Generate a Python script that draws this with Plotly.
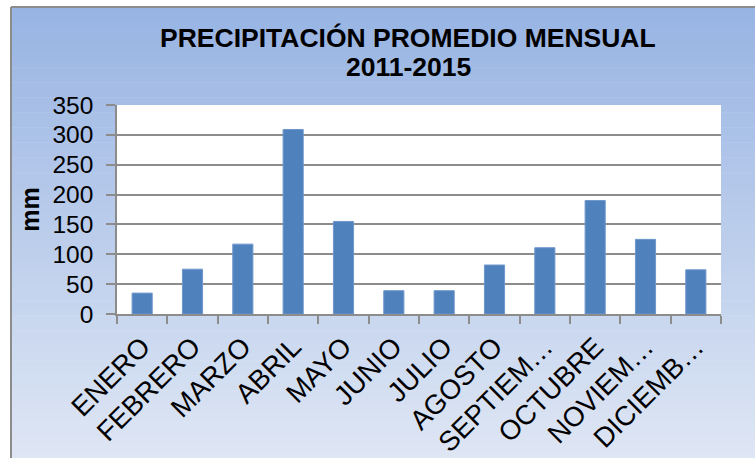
import plotly.graph_objects as go

months = ["ENERO", "FEBRERO", "MARZO", "ABRIL", "MAYO", "JUNIO", "JULIO",
          "AGOSTO", "SEPTIEMBRE", "OCTUBRE", "NOVIEMBRE", "DICIEMBRE"]
tick_labels = ["ENERO", "FEBRERO", "MARZO", "ABRIL", "MAYO", "JUNIO", "JULIO",
               "AGOSTO", "SEPTIEM…", "OCTUBRE", "NOVIEM…", "DICIEMB…"]
precip_mm = [35, 75, 117, 309, 155, 39, 39, 82, 111, 190, 125, 74]
y_ticks = [0, 50, 100, 150, 200, 250, 300, 350]

W, H = 755, 458
L, R, T, B = 117, 34, 105, 144
pw, ph = W - L - R, H - T - B

def px(x):
    return (x - L) / pw

def py(y):
    return (H - B - y) / ph

FONT = "Arial, Liberation Sans, sans-serif"

fig = go.Figure()
fig.add_trace(go.Bar(
    x=months, y=precip_mm,
    marker=dict(color="#4F81BD", line=dict(color="#6E97CC", width=1)),
    width=0.4,
))

shapes = []
# gradient background of chart area
top_c = (152, 180, 227)
bot_c = (222, 230, 244)
y0, y1 = 7, H
n = 60
for i in range(n):
    ya = y0 + (y1 - y0) * i / n
    yb = y0 + (y1 - y0) * (i + 1) / n
    t = i / (n - 1)
    c = tuple(round(top_c[k] + (bot_c[k] - top_c[k]) * t) for k in range(3))
    shapes.append(dict(type="rect", xref="paper", yref="paper", layer="below",
                       x0=px(11), x1=px(W + 2), y0=py(yb + 0.5), y1=py(ya),
                       fillcolor="rgb(%d,%d,%d)" % c, line=dict(width=0)))
# chart border (left + top)
shapes.append(dict(type="line", xref="paper", yref="paper", layer="below",
                   x0=px(11), x1=px(11), y0=py(H + 2), y1=py(7),
                   line=dict(color="#8C8C8C", width=2)))
shapes.append(dict(type="line", xref="paper", yref="paper", layer="below",
                   x0=px(11), x1=px(W + 2), y0=py(7), y1=py(7),
                   line=dict(color="#8C8C8C", width=2)))
# white plot area
shapes.append(dict(type="rect", xref="paper", yref="paper", layer="below",
                   x0=0, x1=1, y0=0, y1=1, fillcolor="white", line=dict(width=0)))

annotations = [
    dict(text="<b>PRECIPITACIÓN PROMEDIO MENSUAL</b>", xref="paper", yref="paper",
         x=px(408), y=py(38), xanchor="center", yanchor="middle", showarrow=False,
         font=dict(family=FONT, size=26.5, color="black")),
    dict(text="<b>2011-2015</b>", xref="paper", yref="paper",
         x=px(408), y=py(67), xanchor="center", yanchor="middle", showarrow=False,
         font=dict(family=FONT, size=26.5, color="black")),
]

fig.update_layout(
    template="none",
    width=W, height=H,
    margin=dict(l=L, r=R, t=T, b=B, pad=0),
    paper_bgcolor="white",
    plot_bgcolor="white",
    showlegend=False,
    shapes=shapes,
    annotations=annotations,
    font=dict(family=FONT, size=24, color="black"),
    xaxis=dict(
        type="category",
        tickvals=months, ticktext=tick_labels,
        tickangle=-45,
        tickson="boundaries",
        ticks="outside", ticklen=8, tickwidth=1.5, tickcolor="#8C8C8C",
        showline=True, linecolor="#8C8C8C", linewidth=1.5,
        showgrid=False, zeroline=False, automargin=False,
        tickfont=dict(family=FONT, size=27.5, color="black"),
        ticklabelstandoff=4,
        range=[-0.5, 11.5],
    ),
    yaxis=dict(
        range=[0, 350],
        tickvals=y_ticks,
        ticks="outside", ticklen=9, tickwidth=1.5, tickcolor="#8C8C8C",
        showline=True, linecolor="#8C8C8C", linewidth=1.5,
        showgrid=True, gridcolor="#8C8C8C", gridwidth=1.5,
        zeroline=False, automargin=False,
        tickfont=dict(family=FONT, size=24.5, color="black"),
        title=dict(text="<b>mm</b>", font=dict(family=FONT, size=25, color="black"),
                   standoff=6),
        ticklabelstandoff=8,
    ),
)

fig.write_html("out.html", config={"displayModeBar": False},
               post_script="document.body.style.margin='0';document.body.style.overflow='hidden';")
